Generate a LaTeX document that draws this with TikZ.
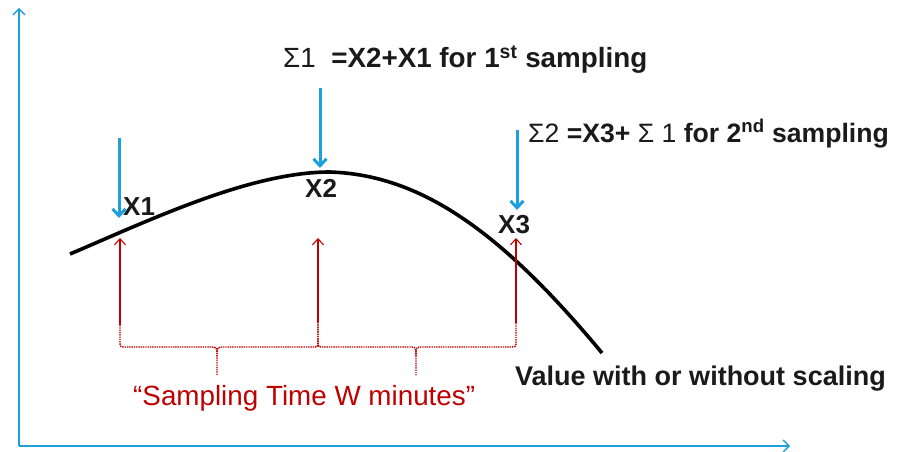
\documentclass[tikz,border=0pt]{standalone}
\usepackage{fontspec}
\setmainfont{Liberation Sans}
\usetikzlibrary{arrows.meta}
\definecolor{axblue}{RGB}{30,160,220}
\definecolor{dred}{RGB}{190,0,0}
\definecolor{txt}{RGB}{26,26,26}
\begin{document}
\begin{tikzpicture}[x=1pt,y=-1pt,
  axis/.style={axblue,line width=1.3pt,-{Straight Barb[length=6pt,width=12pt]}},
  bluearr/.style={axblue,line width=3pt,-{Straight Barb[length=7pt,width=13pt,line width=3pt]}},
  redarr/.style={dred,line width=1.1pt,-{Straight Barb[length=6pt,width=11pt,line width=1.1pt]}},
  brace/.style={dred,line width=1.4pt,dash pattern=on 1.4pt off 0.9pt},
  curve/.style={black,line width=3.6pt},
  lbl/.style={inner sep=0pt,anchor=base west,text=txt,font=\fontsize{27.8}{32}\selectfont},
  xl/.style={lbl,font=\fontsize{26}{30}\selectfont\bfseries},
  vl/.style={lbl,font=\fontsize{27}{30}\selectfont\bfseries}]
\useasboundingbox (0,0) rectangle (897,452);
% axes
\coordinate (o) at (19,446);
\coordinate (ytip) at (19,8);
\coordinate (xtip) at (790,446);
\draw[axis] (o) -- (ytip);
\draw[axis] (o) -- (xtip);
% curve
\coordinate (c0) at (70,254);
\coordinate (cp) at (330,172);
\coordinate (c1) at (602,353);
\draw[curve] (c0) .. controls (150,220) and (250,172) .. (cp)
  .. controls (420,175) and (500,230) .. (c1);
% blue arrows
\coordinate (b1s) at (119,138); \coordinate (b1e) at (119,218);
\coordinate (b2s) at (320,88);  \coordinate (b2e) at (320,168);
\coordinate (b3s) at (517,130); \coordinate (b3e) at (517,210);
\draw[bluearr] (b1s) -- (b1e);
\draw[bluearr] (b2s) -- (b2e);
\draw[bluearr] (b3s) -- (b3e);
% red arrows
\coordinate (r1s) at (120,325); \coordinate (r1e) at (120,238);
\coordinate (r2s) at (318,322); \coordinate (r2e) at (318,238);
\coordinate (r3s) at (516,323); \coordinate (r3e) at (516,238);
\draw[redarr] (r1s) -- (r1e);
\draw[redarr] (r2s) -- (r2e);
\draw[redarr] (r3s) -- (r3e);
% braces
\coordinate (m1) at (217,375);
\coordinate (m2) at (416,375);
\draw[brace] (r1s) -- (120,341) .. controls (120,347) .. (126,347) -- (210,347)
  .. controls (217,347) .. (217,356) -- (m1);
\draw[brace] (r2s) -- (318,341) .. controls (318,347) .. (312,347) -- (224,347)
  .. controls (217,347) .. (217,356);
\draw[brace] (r2s) -- (318,341) .. controls (318,347) .. (324,347) -- (409,347)
  .. controls (416,347) .. (416,356) -- (m2);
\draw[brace] (r3s) -- (516,341) .. controls (516,347) .. (510,347) -- (423,347)
  .. controls (416,347) .. (416,356);
% labels
\node[lbl] (s1) at (283,68) {Σ1\ \ \textbf{=X2+X1 for 1\textsuperscript{st} sampling}};
\node[lbl,font=\fontsize{26.6}{30}\selectfont] (s2) at (528,142) {Σ2 \textbf{=X3+} Σ 1 \textbf{for 2\textsuperscript{nd} sampling}};
\node[xl] (x1) at (123,215) {X1};
\node[xl] (x2) at (305,197) {X2};
\node[xl] (x3) at (498,233) {X3};
\node[vl] (val) at (515,385) {Value with or without scaling};
\node[lbl,text=dred] (samp) at (133,405) {“Sampling Time W minutes”};
\end{tikzpicture}
\end{document}
